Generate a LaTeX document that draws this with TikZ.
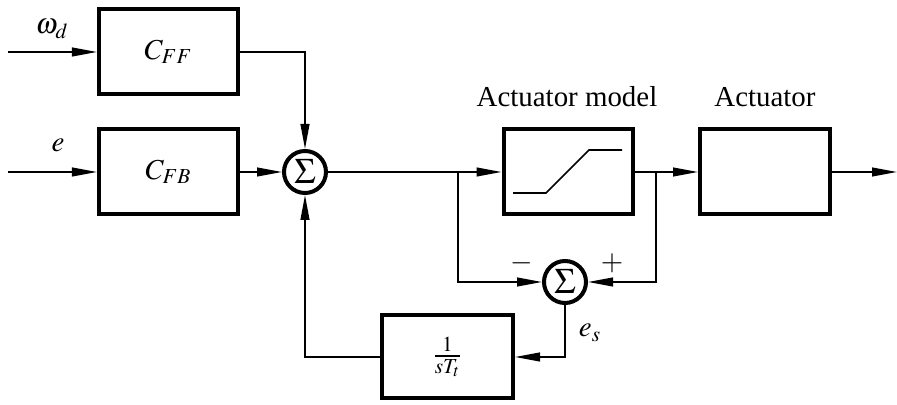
\documentclass[tikz,border=0pt]{standalone}
\usepackage{mathptmx}
\usepackage{fontspec}
\setmainfont{Liberation Serif}
\usetikzlibrary{arrows.meta}
\tikzset{
  every node/.style={font=\fontsize{14.5}{17}\selectfont},
  blk/.style={draw,line width=2bp,minimum width=#1,minimum height=42.5bp,inner sep=0pt},
  blk/.default=69.5bp,
  sumnode/.style={draw,circle,line width=2bp,minimum size=21bp,inner sep=0pt,
    font=\fontsize{18}{20}\selectfont},
  wire/.style={line width=0.85bp},
  sig/.style={wire,-{Triangle[length=12.5bp,width=4.4bp]}},
}
\begin{document}
\begin{tikzpicture}[x=0.5bp,y=-0.5bp,line cap=butt,line join=miter]
  \useasboundingbox (0,0) rectangle (897,405);
  \coordinate (inw) at (8,52);
  \coordinate (ine) at (8,172);
  \coordinate (br1) at (458,172);
  \coordinate (br2) at (656,172);
  \coordinate (out) at (897,172);
  \node[blk] (cff) at (168.5,52) {$C_{FF}$};
  \node[blk] (cfb) at (168.5,172) {$C_{FB}$};
  \node[sumnode] (sum1) at (305,172) {$\Sigma$};
  \node[blk=64.5bp] (model) at (568,172) {};
  \node[blk=65bp] (act) at (765,172) {};
  \node[sumnode] (sum2) at (565,282) {$\Sigma$};
  \node[blk=65.5bp,minimum height=41.5bp] (tt) at (447.5,357) {$\frac{1}{sT_t}$};
  \draw[wire] ([shift={(-55,21)}]model.center) -- ++(33,0) -- ++(43,-43) -- ++(33,0);
  \node (wd) at (52,29) {$\omega_d$};
  \node (elab) at (58,145) {$e$};
  \node (mlab) at (567,97) {Actuator model};
  \node (alab) at (765,97) {Actuator};
  \node (minus) at (522,263) {$-$};
  \node (plus) at (612,263) {$+$};
  \node (es) at (590,333) {$e_s$};
  \draw[sig] (inw) -- (inw -| cff.west);
  \draw[sig] (ine) -- (cfb.west);
  \draw[sig] (cff.east) -| (sum1);
  \draw[sig] (cfb) -- (sum1);
  \draw[sig] (sum1) -- (model);
  \draw[sig] (model) -- (act);
  \draw[sig] (act) -- (out);
  \draw[sig] (br1) |- (sum2);
  \draw[sig] (br2) |- (sum2);
  \draw[sig] (sum2) |- (tt);
  \draw[sig] (tt) -| (sum1);
\end{tikzpicture}
\end{document}
